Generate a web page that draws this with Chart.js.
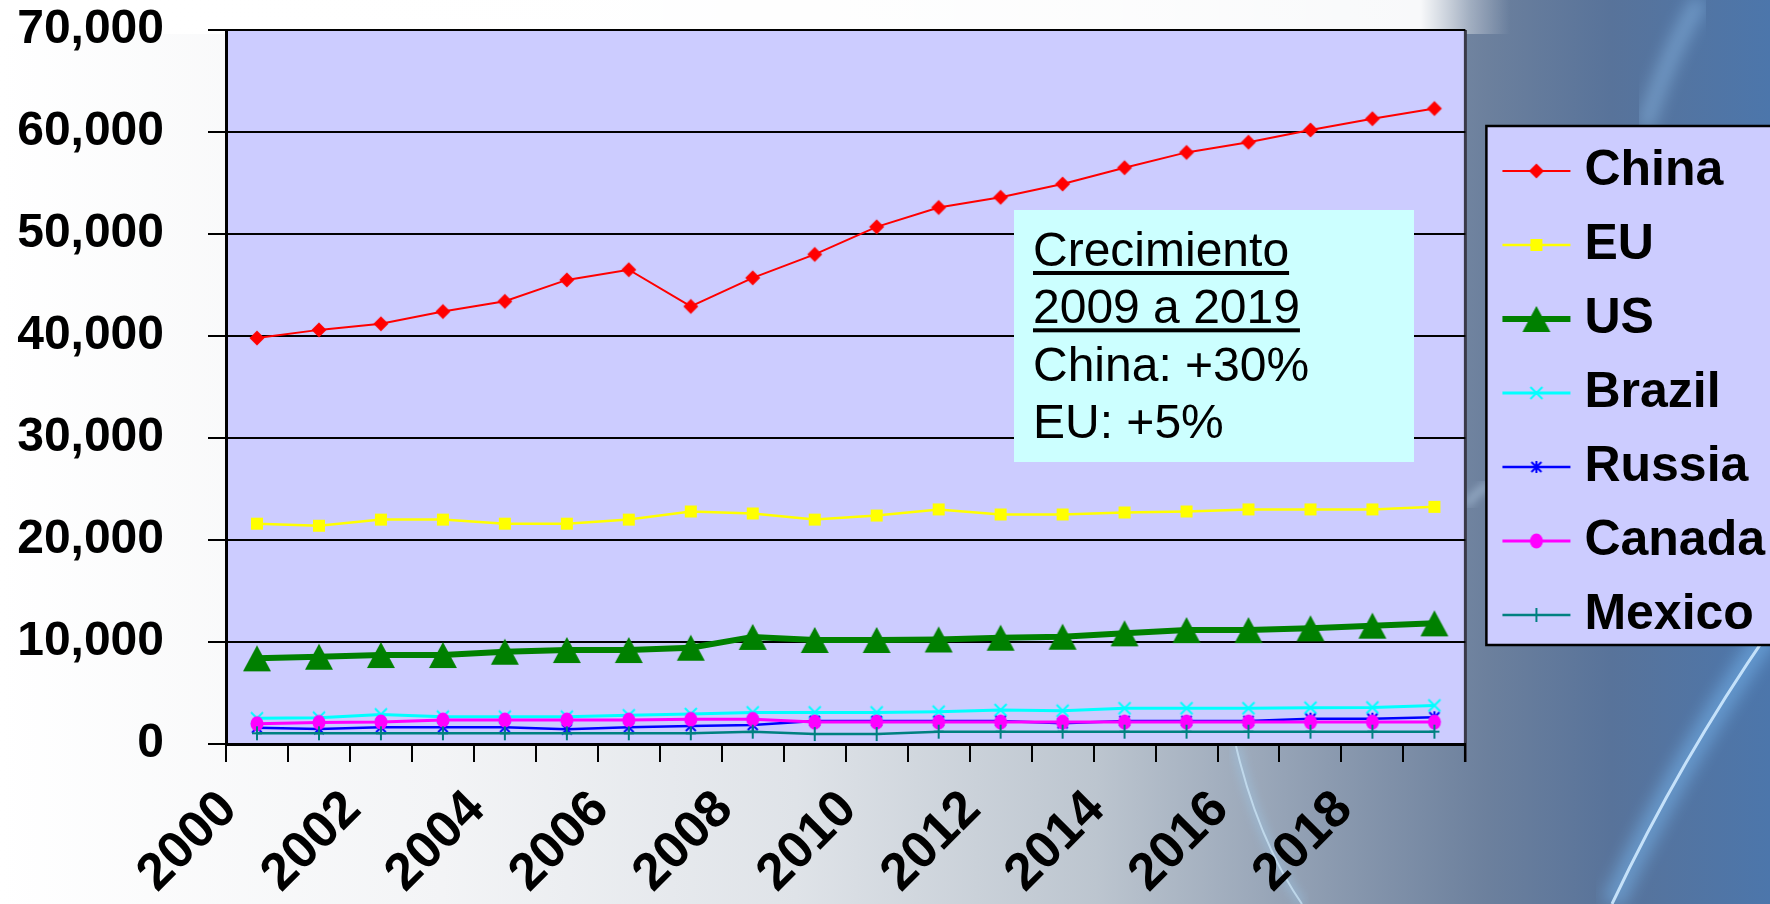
<!DOCTYPE html>
<html>
<head>
<meta charset="utf-8">
<title>Crecimiento 2000-2019</title>
<script src="https://cdn.jsdelivr.net/npm/chart.js@4.4.1/dist/chart.umd.min.js"></script>
<style>
  html, body { margin: 0; padding: 0; }
  body {
    width: 1770px;
    height: 904px;
    overflow: hidden;
    position: relative;
    background:
      linear-gradient(90deg, rgba(255,255,255,1) 0px, rgba(255,255,255,0.95) 1420px, rgba(255,255,255,0.35) 1470px, rgba(255,255,255,0) 1510px) 0 0 / 100% 34px no-repeat,
      linear-gradient(90deg, #ffffff 0%, #f3f4f6 25%, #dfe3e8 45%, #bcc5cf 62%, #8c9bb0 75%, #6c809d 84%, #58739a 91%, #4c76ab 100%);
  }
  #bg { position: absolute; left: 0; top: 0; }
  #wrap { position: absolute; left: 0; top: 0; width: 1770px; height: 904px; }
</style>
</head>
<body>
<svg id="bg" width="1770" height="904">
  <defs>
    <filter id="glow"><feGaussianBlur stdDeviation="5"/></filter>
    <filter id="soft"><feGaussianBlur stdDeviation="8"/></filter>
  </defs>
  <path d="M1612,904 Q1680,760 1770,630" stroke="#7fc4ff" stroke-width="22" fill="none" opacity="0.45" filter="url(#soft)"/>
  <path d="M1612,904 Q1680,760 1770,630" stroke="#cfeaff" stroke-width="3" fill="none" opacity="0.9"/>
  <path d="M1236,746 Q1258,840 1302,904" stroke="#9fd0f5" stroke-width="8" fill="none" opacity="0.4" filter="url(#glow)"/>
  <path d="M1236,746 Q1258,840 1302,904" stroke="#cfe8fa" stroke-width="2" fill="none" opacity="0.7"/>
  <path d="M1645,128 Q1665,60 1700,0" stroke="#9fd3ff" stroke-width="16" fill="none" opacity="0.4" filter="url(#soft)"/>
  <path d="M1466,505 Q1476,492 1490,484" stroke="#cfe8ff" stroke-width="5" fill="none" opacity="0.6" filter="url(#glow)"/>
</svg>
<div id="wrap"><canvas id="chart" width="1770" height="904"></canvas></div>
<script>
// ---- data ----
const years = ['2000', '2001', '2002', '2003', '2004', '2005', '2006', '2007', '2008', '2009',
               '2010', '2011', '2012', '2013', '2014', '2015', '2016', '2017', '2018', '2019'];

const china  = [39800, 40600, 41200, 42400, 43400, 45500, 46500, 42900, 45700, 48000,
                50700, 52600, 53600, 54900, 56500, 58000, 59000, 60200, 61300, 62300];
const eu     = [21600, 21400, 22000, 22000, 21600, 21600, 22000, 22800, 22600, 22000,
                22400, 23000, 22500, 22500, 22700, 22800, 23000, 23000, 23000, 23250];
const us     = [8400, 8560, 8720, 8720, 9050, 9210, 9210, 9440, 10500, 10200,
                10200, 10250, 10420, 10520, 10850, 11170, 11170, 11340, 11600, 11830];
const brazil = [2520, 2580, 2900, 2680, 2680, 2680, 2810, 2940, 3100, 3100,
                3100, 3170, 3330, 3260, 3500, 3500, 3500, 3560, 3580, 3780];
const russia = [1600, 1470, 1630, 1630, 1630, 1440, 1630, 1760, 1860, 2250,
                2250, 2250, 2250, 2030, 2250, 2250, 2250, 2480, 2480, 2620];
const canada = [1990, 2120, 2160, 2350, 2350, 2350, 2350, 2420, 2420, 2150,
                2150, 2150, 2150, 2150, 2150, 2150, 2150, 2150, 2150, 2150];
const mexico = [1050, 1050, 1050, 1050, 1050, 1050, 1050, 1050, 1210, 980,
                980, 1210, 1210, 1210, 1210, 1210, 1210, 1210, 1210, 1210];

const yTicks = [0, 10000, 20000, 30000, 40000, 50000, 60000, 70000];

const noteLines = ['Crecimiento', '2009 a 2019', 'China: +30%', 'EU: +5%'];
const noteUnderlined = [true, true, false, false];

const FONT = '"Liberation Sans", Arial, Helvetica, sans-serif';

// series look: name, values, colour, line width, marker
const series = [
  { name: 'China',  data: china,  color: '#ff0000', width: 2, marker: 'diamond' },
  { name: 'EU',     data: eu,     color: '#ffff00', width: 2.5, marker: 'square' },
  { name: 'US',     data: us,     color: '#008000', width: 6, marker: 'triangle' },
  { name: 'Brazil', data: brazil, color: '#00ffff', width: 3, marker: 'x' },
  { name: 'Russia', data: russia, color: '#0000ff', width: 2.5, marker: 'star' },
  { name: 'Canada', data: canada, color: '#ff00ff', width: 3, marker: 'circle' },
  { name: 'Mexico', data: mexico, color: '#008080', width: 2.5, marker: 'plus' }
];

/**
 * Draw an Excel-like marker centred on (x, y)
 */
function drawMarker(ctx, type, x, y, color) {
  ctx.fillStyle = color;
  ctx.strokeStyle = color;
  ctx.lineWidth = 2;
  ctx.beginPath();
  switch (type) {
    case 'diamond':
      ctx.moveTo(x, y - 7.5); ctx.lineTo(x + 7.5, y); ctx.lineTo(x, y + 7.5); ctx.lineTo(x - 7.5, y);
      ctx.closePath(); ctx.fill();
      break;
    case 'square':
      ctx.fillRect(x - 6, y - 6, 12, 12);
      break;
    case 'triangle':
      ctx.moveTo(x, y - 13); ctx.lineTo(x + 14, y + 13); ctx.lineTo(x - 14, y + 13);
      ctx.closePath(); ctx.fill();
      break;
    case 'x':
      ctx.moveTo(x - 6, y - 6); ctx.lineTo(x + 6, y + 6);
      ctx.moveTo(x + 6, y - 6); ctx.lineTo(x - 6, y + 6);
      ctx.stroke();
      break;
    case 'star':
      ctx.moveTo(x - 5, y - 5); ctx.lineTo(x + 5, y + 5);
      ctx.moveTo(x + 5, y - 5); ctx.lineTo(x - 5, y + 5);
      ctx.moveTo(x, y - 6); ctx.lineTo(x, y + 6);
      ctx.stroke();
      break;
    case 'circle':
      ctx.ellipse(x, y, 6.5, 7.5, 0, 0, Math.PI * 2);
      ctx.fill();
      break;
    case 'plus':
      ctx.moveTo(x, y - 7); ctx.lineTo(x, y + 7);
      ctx.moveTo(x - 5, y); ctx.lineTo(x + 5, y);
      ctx.stroke();
      break;
  }
}

function markerImage(s) {
  const c = document.createElement('canvas');
  c.width = 32; c.height = 32;
  drawMarker(c.getContext('2d'), s.marker, 16, 16, s.color);
  return c;
}

// legend sample: line with the marker in the middle
function legendImage(s) {
  const c = document.createElement('canvas');
  c.width = 100; c.height = 32;
  const ctx = c.getContext('2d');
  ctx.strokeStyle = s.color;
  ctx.lineWidth = s.width;
  ctx.beginPath();
  ctx.moveTo(28, 16); ctx.lineTo(96, 16);
  ctx.stroke();
  drawMarker(ctx, s.marker, 62, 16, s.color);
  return c;
}

const legendIcons = series.map(legendImage);

// plot background, right frame and legend frame
const backdrop = {
  id: 'backdrop',
  beforeDraw(chart) {
    const { ctx, chartArea: a, legend } = chart;
    ctx.save();
    ctx.fillStyle = '#ccccff';
    ctx.fillRect(a.left, a.top, a.right - a.left, a.bottom - a.top);
    ctx.strokeStyle = '#3a3a48';
    ctx.lineWidth = 3;
    ctx.beginPath();
    ctx.moveTo(a.right, a.top);
    ctx.lineTo(a.right, a.bottom + 18);
    ctx.stroke();

    const boxes = legend.legendHitBoxes;
    if (boxes && boxes.length) {
      const last = boxes[boxes.length - 1];
      const top = boxes[0].top - 20;
      const bottom = last.top + last.height + 5;
      const left = boxes[0].left - 3;
      ctx.fillStyle = '#ccccff';
      ctx.fillRect(left, top, chart.width + 10 - left, bottom - top);
      ctx.strokeStyle = '#000';
      ctx.lineWidth = 2.5;
      ctx.strokeRect(left, top, chart.width + 10 - left, bottom - top);
    }
    ctx.restore();
  }
};

// "Crecimiento" note box
const noteBox = {
  id: 'noteBox',
  afterDraw(chart) {
    const { ctx } = chart;
    ctx.save();
    ctx.fillStyle = '#ccffff';
    ctx.fillRect(1014, 210, 400, 252);
    ctx.fillStyle = '#000';
    ctx.font = '48px ' + FONT;
    ctx.textBaseline = 'alphabetic';
    noteLines.forEach((line, i) => {
      const y = 266 + i * 57.3;
      ctx.fillText(line, 1033, y);
      if (noteUnderlined[i]) {
        ctx.fillRect(1033, y + 5, ctx.measureText(line).width, 4);
      }
    });
    ctx.restore();
  }
};

Chart.defaults.font.family = FONT;

new Chart(document.getElementById('chart'), {
  type: 'line',
  data: {
    labels: years,
    datasets: series.map((s, i) => ({
      label: s.name,
      data: s.data,
      borderColor: s.color,
      backgroundColor: s.color,
      borderWidth: s.width,
      pointStyle: markerImage(s),
      pointRadius: 8,
      tension: 0,
      fill: false,
      order: -i
    }))
  },
  options: {
    responsive: false,
    animation: false,
    layout: { padding: { left: 17, top: 30, right: -5, bottom: 0 } },
    scales: {
      x: {
        offset: true,
        grid: {
          offset: true,
          drawOnChartArea: false,
          drawTicks: true,
          tickLength: 18,
          color: '#000',
          lineWidth: 2
        },
        border: { display: true, color: '#000', width: 3 },
        ticks: {
          autoSkip: false,
          minRotation: 45,
          maxRotation: 45,
          padding: 17,
          labelOffset: -28,
          color: '#000',
          font: { size: 52, weight: 'bold' },
          callback: (value, index) => (index % 2 === 0 ? years[index] : '')
        },
        afterFit: (scale) => { scale.height = 160; }
      },
      y: {
        min: 0,
        max: 70000,
        afterBuildTicks: (scale) => { scale.ticks = yTicks.map(v => ({ value: v })); },
        grid: { color: '#000', lineWidth: 2, tickLength: 18 },
        border: { display: true, color: '#000', width: 3 },
        ticks: {
          padding: 44,
          color: '#000',
          font: { size: 48, weight: 'bold' },
          callback: (value) => value.toLocaleString('en-US')
        },
        afterFit: (scale) => {
          scale.width = 209;
          scale.paddingTop = 29;
          scale.paddingBottom = 29;
        }
      }
    },
    plugins: {
      tooltip: { enabled: false },
      legend: {
        position: 'right',
        align: 'center',
        fullSize: false,
        // empty title only nudges the items down a little
        title: { display: true, text: '', padding: 0, color: '#000', font: { size: 10 } },
        labels: {
          usePointStyle: true,
          pointStyleWidth: 70,
          padding: 24,
          color: '#000',
          font: { size: 50, weight: 'bold' },
          sort: (a, b) => a.datasetIndex - b.datasetIndex,
          generateLabels: (chart) => chart.data.datasets.map((ds, i) => ({
            text: ds.label,
            fillStyle: ds.borderColor,
            strokeStyle: ds.borderColor,
            fontColor: '#000',
            lineWidth: 0,
            pointStyle: legendIcons[i],
            hidden: false,
            datasetIndex: i
          }))
        }
      }
    }
  },
  plugins: [backdrop, noteBox]
});
</script>
</body>
</html>
